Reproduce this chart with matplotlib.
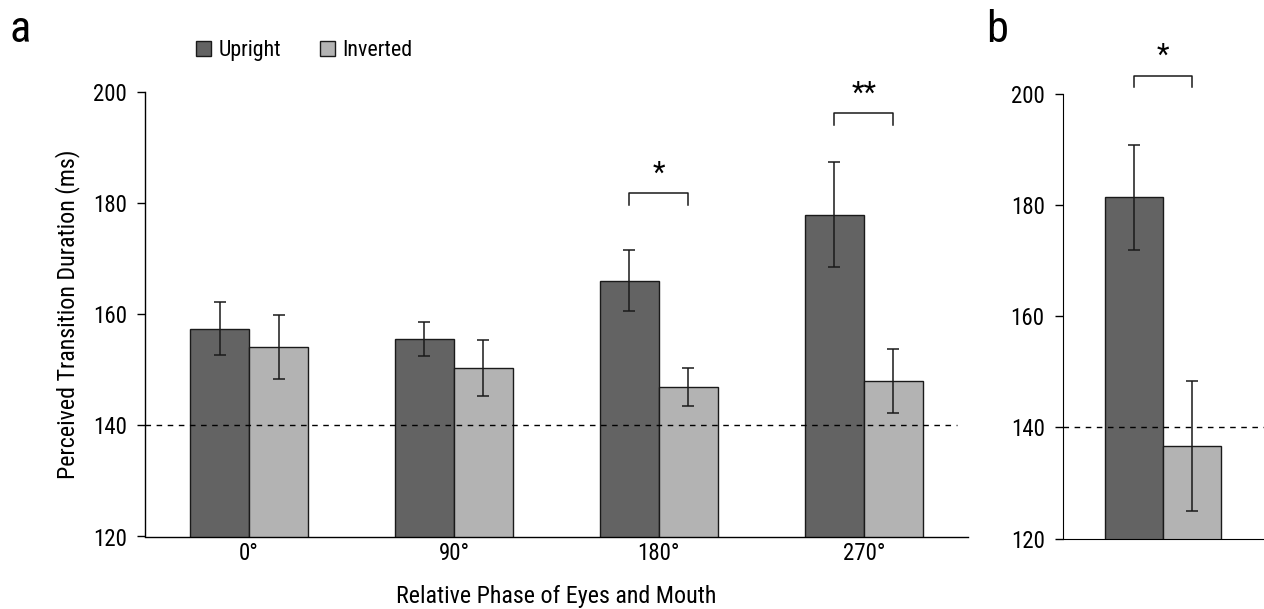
import matplotlib
matplotlib.use("Agg")
import matplotlib.pyplot as plt
from matplotlib.patches import Patch
import numpy as np

plt.rcParams['font.family'] = ['Roboto Condensed', 'Archivo Narrow', 'Liberation Sans', 'DejaVu Sans']

# ---- data ----
phases = ["0°", "90°", "180°", "270°"]
upright = [157.4, 155.5, 166.0, 177.9]
upright_err = [4.7, 3.0, 5.5, 9.5]
inverted = [154.1, 150.3, 146.9, 148.0]
inverted_err = [5.8, 5.0, 3.4, 5.7]

b_upright = [181.4]
b_upright_err = [9.5]
b_inverted = [136.6]
b_inverted_err = [11.7]

baseline = 140
sig_a = {2: "*", 3: "**"}
bracket_a = {2: 181.8, 3: 196.1}
bracket_b = 203.3
sig_b = "*"

col_up = "#636363"
col_inv = "#b3b3b3"
edge = "#1a1a1a"
fs_tick = 16.5
fs_lab = 17.3
fs_leg = 15.8

fig = plt.figure(figsize=(12.64, 6.09), dpi=100)
axA = fig.add_axes([145/1264, 1-536.5/609, (968-145)/1264, (536.5-91.7)/609])
axB = fig.add_axes([1062.7/1264, 1-538.5/609, (1264-1062.7)/1264, (538.5-94)/609])

w = 0.288
x = np.arange(len(phases))
ekw = dict(ecolor=edge, elinewidth=1.1, capsize=4.5, capthick=1.1)

axA.bar(x - w/2, upright, w, color=col_up, edgecolor=edge, linewidth=1.0,
        yerr=upright_err, error_kw=ekw, zorder=2)
axA.bar(x + w/2, inverted, w, color=col_inv, edgecolor=edge, linewidth=1.0,
        yerr=inverted_err, error_kw=ekw, zorder=2)
axA.axhline(baseline, xmin=0, xmax=0.987, color="black", lw=1.0, ls=(0, (4, 4)), zorder=3)

for i, s in sig_a.items():
    yb = bracket_a[i]
    axA.plot([i - w/2, i - w/2, i + w/2, i + w/2], [yb - 2.1, yb, yb, yb - 2.1],
             color=edge, lw=1.1, clip_on=False)
    axA.text(i, yb + 1.0, s, ha="center", va="bottom", fontsize=21)

axA.set_xlim(-0.508, 3.509)
axA.set_ylim(120, 200)
axA.set_yticks([120, 140, 160, 180, 200])
axA.set_xticks(x)
axA.set_xticklabels(phases)
axA.tick_params(axis="x", length=0, pad=4, labelsize=fs_tick)
axA.tick_params(axis="y", length=6, width=1, pad=7, labelsize=fs_tick, direction="out")
for sp in ["top", "right"]:
    axA.spines[sp].set_visible(False)
axA.spines["left"].set_linewidth(1.0)
axA.spines["bottom"].set_linewidth(1.0)
axA.set_ylabel("Perceived Transition Duration (ms)", fontsize=fs_lab, labelpad=9)
axA.set_xlabel("Relative Phase of Eyes and Mouth", fontsize=fs_lab, labelpad=14)

# panel b
axB.bar([-w/2], b_upright, w, color=col_up, edgecolor=edge, linewidth=1.0,
        yerr=b_upright_err, error_kw=ekw, zorder=2)
axB.bar([w/2], b_inverted, w, color=col_inv, edgecolor=edge, linewidth=1.0,
        yerr=b_inverted_err, error_kw=ekw, zorder=2)
axB.axhline(baseline, color="black", lw=1.0, ls=(0, (4, 4)), zorder=3)
axB.plot([-w/2, -w/2, w/2, w/2], [bracket_b - 2.1, bracket_b, bracket_b, bracket_b - 2.1],
         color=edge, lw=1.1, clip_on=False)
axB.text(0, bracket_b + 1.0, sig_b, ha="center", va="bottom", fontsize=21, clip_on=False)
axB.set_xlim(-0.5, 0.5)
axB.set_ylim(120, 200)
axB.set_yticks([120, 140, 160, 180, 200])
axB.set_xticks([])
axB.tick_params(axis="y", length=6, width=1, pad=7, labelsize=fs_tick, direction="out")
for sp in ["top", "right"]:
    axB.spines[sp].set_visible(False)

fig.text(10/1264, 1-42/609, "a", fontsize=32, ha="left", va="baseline")
fig.text(986/1264, 1-42/609, "b", fontsize=32, ha="left", va="baseline")

handles = [Patch(facecolor=col_up, edgecolor=edge, label="Upright"),
           Patch(facecolor=col_inv, edgecolor=edge, label="Inverted")]
fig.legend(handles=handles, loc="center left", bbox_to_anchor=(196/1264, 1-50.5/609),
           ncol=2, frameon=False, fontsize=fs_leg, handlelength=0.68, handleheight=0.68,
           handletextpad=0.35, columnspacing=1.75, borderpad=0, borderaxespad=0)

fig.savefig("out.png", dpi=100)
